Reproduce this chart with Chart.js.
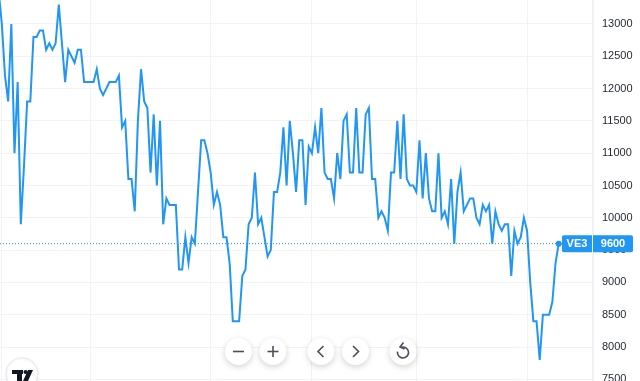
<!DOCTYPE html>
<html><head><meta charset="utf-8">
<script src="https://cdn.jsdelivr.net/npm/chart.js@4"></script>
<style>html,body{margin:0;padding:0;background:#fff;overflow:hidden}canvas{display:block}</style>
</head><body><canvas id="c" width="640" height="381"></canvas>
<script>
const seriesName = "VE3";
const lastPrice = 9600;
const values = [
13500,13000,12200,11800,13000,11000,12100,9900,10800,11800,
11800,12800,12800,12900,12900,12600,12700,12600,12700,13300,
12700,12100,12600,12500,12400,12600,12600,12100,12100,12100,
12100,12300,12000,11900,12000,12100,12100,12100,12200,
11400,11500,10600,10600,10100,11500,12300,11800,11700,10700,
11600,10500,11500,9900,10300,10200,10200,10200,9200,9200,
9700,9300,9700,9600,10400,11200,11200,11000,10700,10200,
10400,10200,9700,9700,9300,8400,8400,8400,9100,9200,
9900,10000,10700,9900,10000,9700,9400,9500,10400,10400,
10700,11400,10500,11500,11000,10400,11200,11200,10200,11100,
11000,11400,11000,11700,10700,10600,10600,10300,11000,10600,
11500,11600,10700,10700,11700,10700,10700,11600,11700,10600,
10600,10000,10100,10000,9800,10700,10700,11500,10600,11600,
10600,10500,10500,10400,11200,10300,11000,10300,10100,10100,
11000,10000,10100,9900,10600,9600,10400,10700,10100,10200,
10300,10300,10000,9900,10200,10100,10200,9600,10100,9900,
9800,9900,9900,9100,9800,9600,9700,10000,9800,9000,
8400,8400,7800,8500,8500,8500,8700,9300,9600];
const yTicks = [7500,8000,8500,9000,9500,10000,10500,11000,11500,12000,12500,13000];
const xGridAt = [0.9,29,67,99,132.2,167];
const points = values.map((v,i)=>({x:i,y:v}));
const lastIdx = values.length-1;
const xMin = 0.42, xMax = 187.84, yMin = 7474, yMax = 13371;

const BLUE = "#2196f3";
Chart.registry.getController("line").prototype.getMaxOverflow = function(){ return 0; };
const overlay = {
  id:"overlay",
  afterDraw(chart){
    const c = chart.ctx, ys = chart.scales.y;
    const py = ys.getPixelForValue(lastPrice);
    c.save();
    c.fillStyle = BLUE;
    c.beginPath(); c.roundRect(562,py-8.5,30,17,[2,0,0,2]); c.fill();
    c.beginPath(); c.roundRect(593,py-8.5,40,17,[0,2,2,0]); c.fill();
    c.fillStyle = "#fff"; c.font = "bold 11px 'Liberation Sans'";
    c.textAlign="center"; c.textBaseline="middle";
    c.fillText(seriesName,577,py+0.5);
    c.fillText(String(lastPrice),613,py+0.5);
    const btn=(x,y,r)=>{c.save();c.shadowColor="rgba(0,0,0,0.18)";c.shadowBlur=6;c.shadowOffsetY=2;
      c.fillStyle="#fff";c.beginPath();c.arc(x,y,r,0,Math.PI*2);c.fill();c.restore();};
    const Y=351.5;
    [238.5,273,321,355.5,403].forEach(x=>btn(x,Y,13.5));
    c.strokeStyle="#4a4f5e";c.lineWidth=1.6;c.lineCap="butt";c.lineJoin="miter";
    const l=(a)=>{c.beginPath();c.moveTo(a[0],a[1]);for(let i=2;i<a.length;i+=2)c.lineTo(a[i],a[i+1]);c.stroke();};
    l([233,Y,244,Y]);
    l([267.5,Y,278.5,Y]); l([273,Y-5.5,273,Y+5.5]);
    l([323.5,Y-5.5,318,Y,323.5,Y+5.5]);
    l([353,Y-5.5,358.5,Y,353,Y+5.5]);
    c.beginPath();c.arc(403,Y+1,5.5,-Math.PI*0.62,Math.PI*1.05);c.stroke();
    l([403.5,Y-9,400,Y-4.5,404.5,Y-2.5]);
    c.save();c.fillStyle="#fff";c.strokeStyle="#e6e8ee";c.lineWidth=1;
    c.shadowColor="rgba(0,0,0,0.08)";c.shadowBlur=3;
    c.beginPath();c.arc(22,374,16,0,Math.PI*2);c.fill();c.stroke();c.restore();
    c.fillStyle="#131722";
    c.fillRect(12,370,11,4);c.fillRect(17,370,5,11);
    c.beginPath();c.arc(25.5,372,2,0,Math.PI*2);c.fill();
    c.beginPath();c.moveTo(28,370);c.lineTo(33,370);c.lineTo(28,381);c.lineTo(23,381);c.closePath();c.fill();
    c.restore();
  }
};
const noPad = s => { s.paddingTop=0; s.paddingBottom=0; s.paddingLeft=0; s.paddingRight=0; };

new Chart(document.getElementById("c"),{
  type:"line",
  data:{datasets:[
    {data:[{x:xMin,y:lastPrice},{x:xMax,y:lastPrice}],borderColor:BLUE,borderWidth:1,borderDash:[1,2],pointRadius:0,order:2},
    {data:points,borderColor:BLUE,backgroundColor:BLUE,borderWidth:2,tension:0,order:1,
     pointRadius:c=>c.dataIndex===lastIdx?3:0,pointBorderWidth:0,pointHoverRadius:0}
  ]},
  options:{
    responsive:false,animation:false,events:[],
    layout:{padding:0},
    plugins:{legend:{display:false},tooltip:{enabled:false}},
    scales:{
      x:{type:"linear",min:xMin,max:xMax,
         afterBuildTicks(s){s.ticks=xGridAt.map(v=>({value:v}));},
         afterFit(s){s.height=0;noPad(s);},
         ticks:{display:false},
         grid:{color:"#f2f3f7",lineWidth:1,drawTicks:false},border:{display:false}},
      y:{type:"linear",position:"right",min:yMin,max:yMax,
         afterBuildTicks(s){s.ticks=yTicks.map(v=>({value:v}));},
         afterFit(s){s.width=47;noPad(s);},
         ticks:{color:"#1f2430",font:{family:"'Liberation Sans'",size:11},padding:9,autoSkip:false,maxRotation:0,
                callback:v=>String(v)},
         grid:{color:"#f2f3f7",lineWidth:1,drawTicks:false},
         border:{display:true,color:"#f0f1f5",width:2}}
    }
  },
  plugins:[overlay]
});
</script></body></html>
